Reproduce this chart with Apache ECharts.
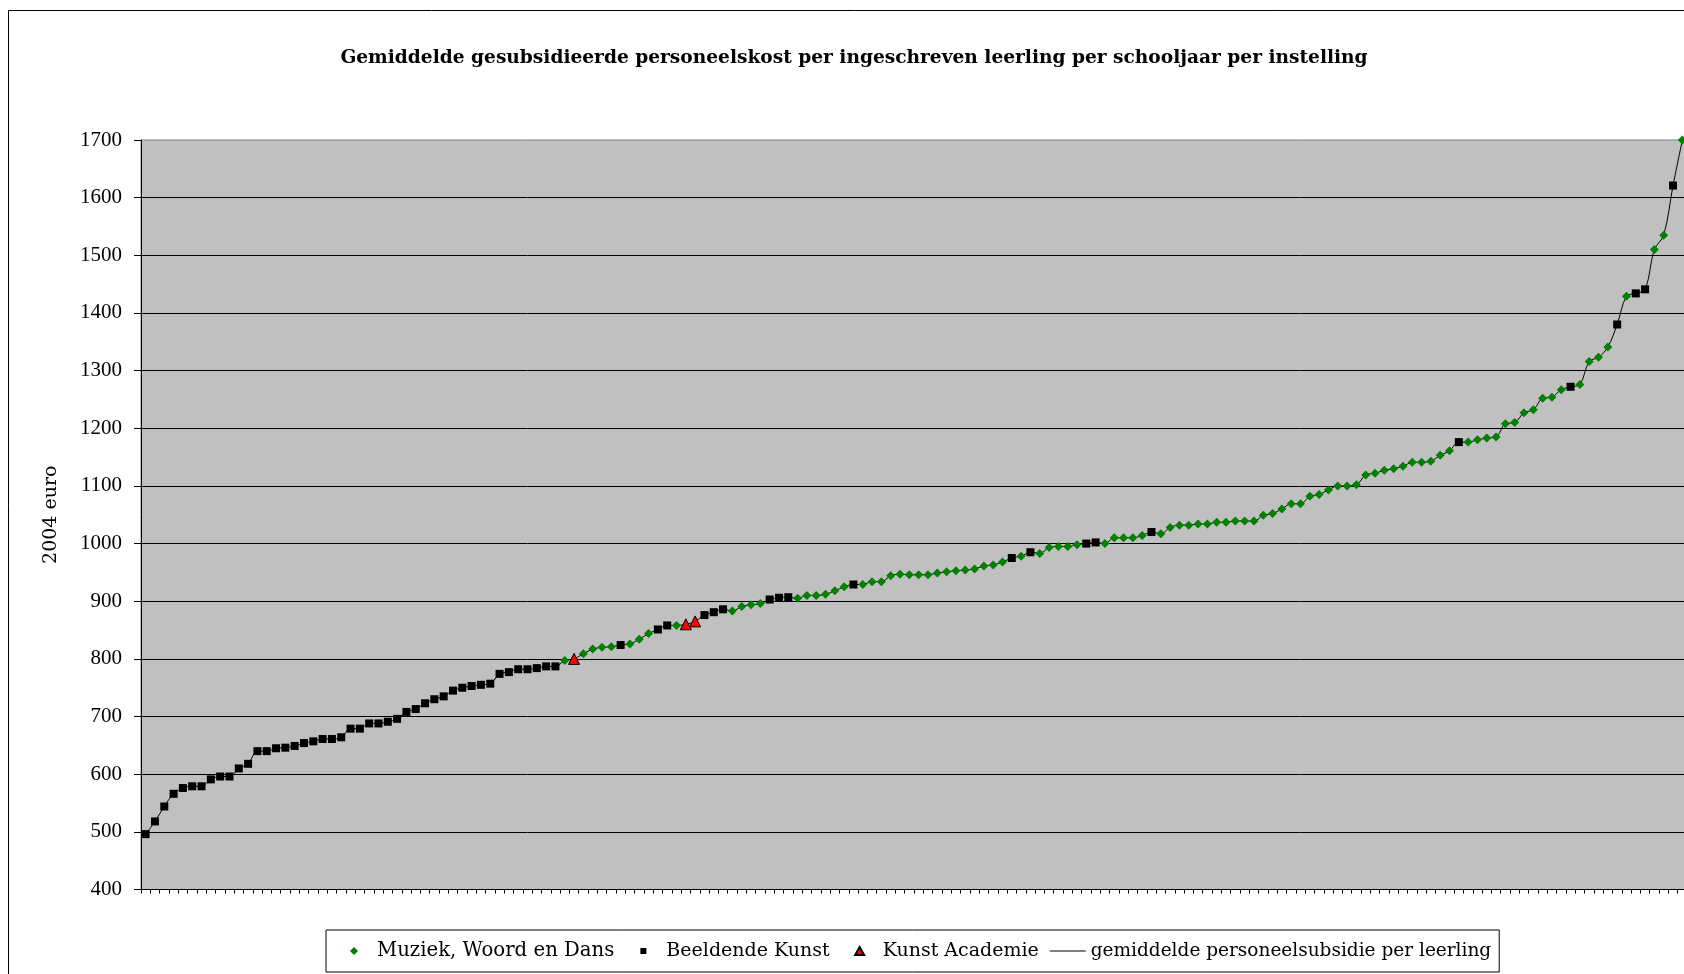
<!DOCTYPE html>
<html>
<head>
<meta charset="utf-8">
<script src="https://cdn.jsdelivr.net/npm/echarts@6/dist/echarts.min.js"></script>
<style>
  html, body { margin: 0; padding: 0; overflow: hidden; background: #fff; }
  #chart { width: 1700px; height: 1000px; }
</style>
</head>
<body>
<div id="chart"></div>
<script>
// Sorted average subsidised staff cost per enrolled pupil (2004 euro), one per institution
const values = [
  496, 518, 544, 566, 576, 579, 579, 591, 596, 596,
  610, 618, 640, 640, 645, 646, 649, 654, 657, 661,
  661, 664, 679, 679, 688, 688, 691, 696, 708, 713,
  723, 730, 735, 745, 750, 753, 755, 757, 774, 777,
  782, 782, 784, 787, 787, 797, 800, 809, 817, 820,
  821, 824, 826, 834, 844, 851, 858, 858, 860, 865,
  876, 881, 886, 883, 891, 894, 896, 903, 906, 907,
  905, 910, 910, 912, 918, 925, 929, 929, 934, 934,
  944, 947, 946, 946, 946, 949, 951, 953, 954, 956,
  961, 963, 968, 975, 978, 985, 983, 993, 995, 995,
  998, 1000, 1002, 1000, 1010, 1010, 1010, 1014, 1020, 1017,
  1028, 1032, 1032, 1034, 1034, 1037, 1037, 1039, 1039, 1039,
  1049, 1052, 1060, 1069, 1069, 1082, 1085, 1093, 1100, 1100,
  1102, 1119, 1122, 1127, 1130, 1134, 1141, 1141, 1143, 1153,
  1161, 1176, 1176, 1180, 1183, 1185, 1208, 1210, 1227, 1232,
  1252, 1254, 1267, 1272, 1276, 1316, 1323, 1341, 1380, 1429,
  1434, 1441, 1510, 1535, 1621, 1700
];
// Institution type: M = Muziek, Woord en Dans, B = Beeldende Kunst, K = Kunst Academie
const types = [
  'B','B','B','B','B','B','B','B','B','B',
  'B','B','B','B','B','B','B','B','B','B',
  'B','B','B','B','B','B','B','B','B','B',
  'B','B','B','B','B','B','B','B','B','B',
  'B','B','B','B','B','M','K','M','M','M',
  'M','B','M','M','M','B','B','M','K','K',
  'B','B','B','M','M','M','M','B','B','B',
  'M','M','M','M','M','M','B','M','M','M',
  'M','M','M','M','M','M','M','M','M','M',
  'M','M','M','B','M','B','M','M','M','M',
  'M','B','B','M','M','M','M','M','B','M',
  'M','M','M','M','M','M','M','M','M','M',
  'M','M','M','M','M','M','M','M','M','M',
  'M','M','M','M','M','M','M','M','M','M',
  'M','B','M','M','M','M','M','M','M','M',
  'M','M','M','B','M','M','M','M','B','M',
  'B','B','M','M','B','M'
];
const categories = values.map((v, i) => String(i + 1));
const seriesNames = {
  M: 'Muziek, Woord en Dans',
  B: 'Beeldende Kunst',
  K: 'Kunst Academie',
  line: 'gemiddelde personeelsubsidie per leerling'
};
const titleText = 'Gemiddelde gesubsidieerde personeelskost per ingeschreven leerling per schooljaar per instelling';
const yName = '2004 euro';

const NUMFONT = 'Liberation Serif';
const TXTFONT = 'DejaVu Serif';
const pick = t => values.map((v, i) => (types[i] === t ? v : '-'));

// legend icons: the leading "M0,0 M36,8" fixes the icon box so the shape keeps its size
const ICON = {
  M: 'path://M0,0 M36,8 M18,0 L22,4 L18,8 L14,4 Z',
  B: 'path://M0,0 M36,8 M15,1 L21,1 L21,7 L15,7 Z',
  K: 'path://M0,0 M36,8 M18,0 L22.5,8 L13.5,8 Z',
  line: 'path://M0,0 M36,8 M0,3.5 L36,3.5 L36,4.5 L0,4.5 Z'
};

const chart = echarts.init(document.getElementById('chart'), null, { renderer: 'canvas', width: 1700, height: 1000 });
chart.setOption({
  animation: false,
  backgroundColor: '#ffffff',
  textStyle: { fontFamily: NUMFONT, color: '#000' },
  graphic: [{
    type: 'rect', silent: true, z: -10,
    shape: { x: 8.5, y: 10.5, width: 1700, height: 1000 },
    style: { fill: '#ffffff', stroke: '#000000', lineWidth: 1 }
  }],
  title: {
    text: titleText,
    left: 854, top: 49, textAlign: 'center', padding: 0,
    textStyle: { fontFamily: TXTFONT, fontWeight: 'bold', fontSize: 18.6, color: '#000' }
  },
  legend: {
    left: 326, top: 930,
    padding: [11, 8, 11, 10],
    borderColor: '#000', borderWidth: 1,
    backgroundColor: '#fff',
    itemWidth: 36, itemHeight: 8, itemGap: 11,
    textStyle: { fontFamily: TXTFONT, fontSize: 19, color: '#000' },
    data: [
      { name: seriesNames.M, icon: ICON.M, textStyle: { fontSize: 19.7 } },
      { name: seriesNames.B, icon: ICON.B },
      { name: seriesNames.K, icon: ICON.K },
      { name: seriesNames.line, icon: ICON.line, textStyle: { fontSize: 18.5 } }
    ]
  },
  grid: {
    left: 141, top: 140, width: 1546, height: 749.5,
    show: true, backgroundColor: '#C0C0C0', borderColor: '#808080', borderWidth: 1,
    containLabel: false
  },
  xAxis: {
    type: 'category', data: categories, boundaryGap: true,
    axisLine: { lineStyle: { color: '#000', width: 1 } },
    axisTick: { show: true, interval: 0, length: 4, lineStyle: { color: '#000' } },
    axisLabel: { show: false },
    splitLine: { show: false }
  },
  yAxis: {
    type: 'value', min: 400, max: 1700, interval: 100,
    name: yName, nameLocation: 'middle', nameGap: 80, nameRotate: 90,
    nameTextStyle: { fontFamily: TXTFONT, fontSize: 19, color: '#000' },
    axisLine: { show: true, lineStyle: { color: '#000', width: 1 } },
    axisTick: { show: true, length: 7, lineStyle: { color: '#000' } },
    axisLabel: { fontFamily: NUMFONT, fontSize: 21, color: '#000', margin: 19,
      formatter: v => String(v) },
    splitLine: { show: true, showMaxLine: false, lineStyle: { color: '#000', width: 1 } }
  },
  series: [
    {
      name: seriesNames.line, type: 'line', data: values,
      smooth: 0.35, symbol: 'none', clip: false, z: 2,
      lineStyle: { color: '#000', width: 1 },
      itemStyle: { color: '#000' }
    },
    {
      name: seriesNames.M, type: 'scatter', data: pick('M'),
      symbol: 'diamond', symbolSize: 9, clip: false, z: 3,
      itemStyle: { color: '#008000', opacity: 1 }
    },
    {
      name: seriesNames.B, type: 'scatter', data: pick('B'),
      symbol: 'rect', symbolSize: 8, clip: false, z: 3,
      itemStyle: { color: '#000000', opacity: 1 }
    },
    {
      name: seriesNames.K, type: 'scatter', data: pick('K'),
      symbol: 'triangle', symbolSize: 11, clip: false, z: 4,
      itemStyle: { color: '#FF0000', borderColor: '#000', borderWidth: 1, opacity: 1 }
    }
  ]
});
</script>
</body>
</html>
